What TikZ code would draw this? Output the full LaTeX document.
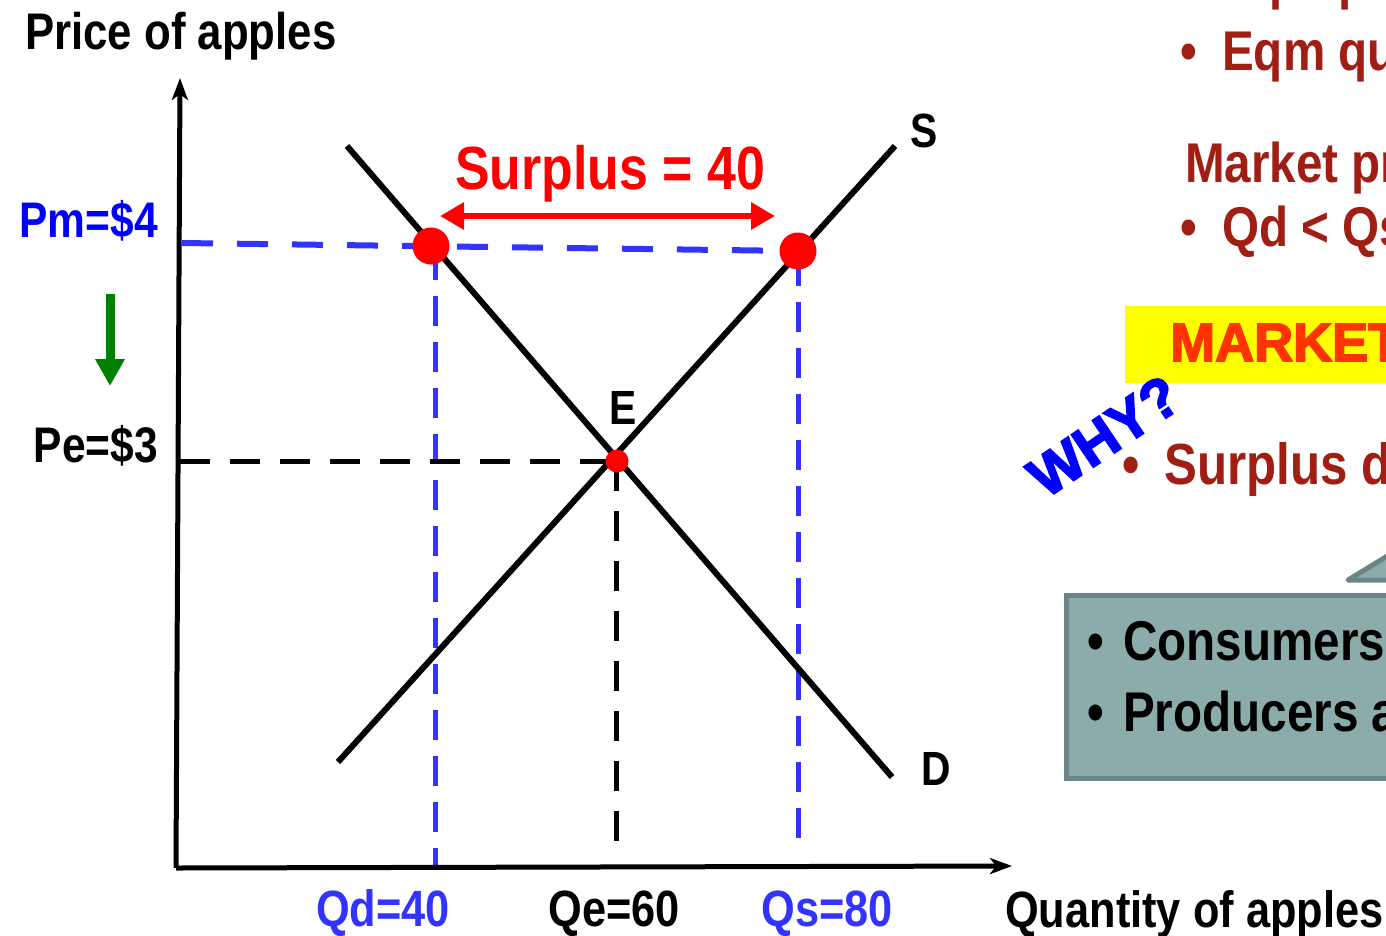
\documentclass[tikz,border=0pt]{standalone}
\usepackage{fontspec}
\setmainfont{Liberation Sans}[FakeStretch=0.85]
\newfontfamily\heavyfont{Liberation Sans}[FakeBold=3]
\usetikzlibrary{arrows.meta}
\definecolor{txtred}{RGB}{160,30,20}
\definecolor{pmblue}{RGB}{0,0,255}
\definecolor{qblue}{RGB}{51,51,255}
\definecolor{grn}{RGB}{0,128,0}
\definecolor{mktred}{RGB}{255,51,0}
\definecolor{mktyellow}{RGB}{255,255,0}
\definecolor{boxfill}{RGB}{140,172,172}
\definecolor{boxline}{RGB}{106,133,133}
\newcommand\fsz[1]{\fontsize{#1}{#1}\selectfont}
\begin{document}
\begin{tikzpicture}[x=1pt,y=-1pt,
  lbl/.style={inner sep=0pt,font=\bfseries\fsz{51}},
  rtext/.style={inner sep=0pt,font=\bfseries\fsz{56},text=txtred,anchor=base west},
  curve/.style={line width=6pt},
  axis/.style={line width=5pt,-{Stealth[length=22pt,width=16pt,inset=6pt]}},
  bluedash/.style={line width=6pt,draw=qblue,dash pattern=on 31pt off 24pt},
  bluevdash/.style={line width=5pt,draw=qblue,dash pattern=on 30pt off 16pt},
  blackdash/.style={line width=5pt,draw=black,dash pattern=on 30pt off 20pt},
  dot/.style={circle,fill=red,inner sep=0pt,minimum size=#1}]
\useasboundingbox (0,0) rectangle (1386,935);
\clip (0,0) rectangle (1386,935);

% coordinates
\coordinate (O) at (176,868);
\coordinate (ytip) at (180,78);
\coordinate (xtip) at (1012,866);
\coordinate (pmaxis) at (182,243);
\coordinate (peaxis) at (180,461);
\coordinate (qdaxis) at (435,865);
\coordinate (qeaxis) at (616,855);
\coordinate (qsaxis) at (798,850);
\coordinate (d1) at (347,146);
\coordinate (d2) at (892,777);
\coordinate (s1) at (338,762);
\coordinate (s2) at (895,146);

% dashed guides
\draw[bluedash] (pmaxis) -- (798,251);
\draw[bluevdash] (435,250) -- (qdaxis);
\draw[bluevdash] (798,256) -- (qsaxis);
\draw[blackdash] (peaxis) -- (617,461);
\draw[blackdash] (616,461) -- (qeaxis);

% axes
\draw[axis] (O) -- (ytip);
\draw[axis] (O) -- (xtip);

% curves
\draw[curve] (d1) -- (d2);
\draw[curve] (s1) -- (s2);

% points
\node[dot=37pt] (A) at (431,246) {};
\node[dot=37pt] (B) at (798,251) {};
\node[dot=23pt] (E) at (617,461) {};

% surplus arrow
\coordinate (sl) at (440,216);
\coordinate (sr) at (775,216);
\draw[red,line width=6pt,{Triangle[length=24pt,width=26pt]}-{Triangle[length=24pt,width=26pt]}] (sl) -- (sr);
\node[inner sep=0pt,font=\bfseries\fsz{61},text=red,anchor=base] (surp) at (610,189) {Surplus = 40};

% price arrow
\coordinate (g1) at (110,294);
\coordinate (g2) at (110,386);
\draw[grn,line width=9pt,-{Triangle[length=27pt,width=28pt]}] (g1) -- (g2);

% axis labels
\node[lbl,font=\bfseries\fsz{51.5},anchor=base west] (ylab) at (25,49) {Price of apples};
\node[lbl,anchor=base west] (xlab) at (1005,927) {Quantity of apples};
\node[lbl,font=\bfseries\fsz{50},text=pmblue,anchor=base east] (pm) at (158,237) {Pm=\$4};
\node[lbl,font=\bfseries\fsz{50},anchor=base east] (pe) at (158,462) {Pe=\$3};
\node[lbl,text=qblue,anchor=base] (qd) at (383,926) {Qd=40};
\node[lbl,anchor=base] (qe) at (614,926) {Qe=60};
\node[lbl,text=qblue,anchor=base] (qs) at (827,926) {Qs=80};
\node[lbl,font=\bfseries\fsz{48},anchor=base west] (Slab) at (910,147) {S};
\node[lbl,font=\bfseries\fsz{48},anchor=base west] (Dlab) at (921,785) {D};
\node[lbl,font=\bfseries\fsz{48},anchor=base west] (Elab) at (609,424) {E};

% right-hand text (cut off by the frame)
\node[rtext] (b0) at (1180,-2) {•};
\node[rtext] (t0) at (1222,-2) {Eqm price = \$3};
\node[rtext] (b1) at (1180,70) {•};
\node[rtext] (t1) at (1222,70) {Eqm quantity = 60};
\node[rtext] (t2) at (1185,182) {Market price = \$4};
\node[rtext] (b3) at (1180,246) {•};
\node[rtext] (t3) at (1222,246) {Qd < Qs};

\fill[mktyellow] (1125,306) rectangle (1420,383);
\node[inner sep=0pt,anchor=base west,text=mktred,font=\heavyfont\bfseries\fsz{54}] (mkt) at (1170,361) {MARKET};

\node[inner sep=0pt,text=pmblue,font=\heavyfont\bfseries\fsz{57},rotate=34] (why) at (1104,436) {WHY?};

\node[rtext,font=\bfseries\fsz{58}] (b4) at (1122,484) {•};
\node[rtext,font=\bfseries\fsz{58}] (t4) at (1164,484) {Surplus drives};

% callout
\filldraw[fill=boxfill,draw=boxline,line width=5pt,line join=round] (1348,580) -- (1430,530) -- (1430,580) -- cycle;
\filldraw[fill=boxfill,draw=boxline,line width=5pt] (1066,595) rectangle (1430,778);
\node[inner sep=0pt,anchor=base west,font=\bfseries\fsz{56}] (c1) at (1087,660) {•};
\node[inner sep=0pt,anchor=base west,font=\bfseries\fsz{56}] (c1t) at (1123,660) {Consumers};
\node[inner sep=0pt,anchor=base west,font=\bfseries\fsz{56}] (c2) at (1087,731) {•};
\node[inner sep=0pt,anchor=base west,font=\bfseries\fsz{56}] (c2t) at (1123,731) {Producers are};
\end{tikzpicture}
\end{document}
